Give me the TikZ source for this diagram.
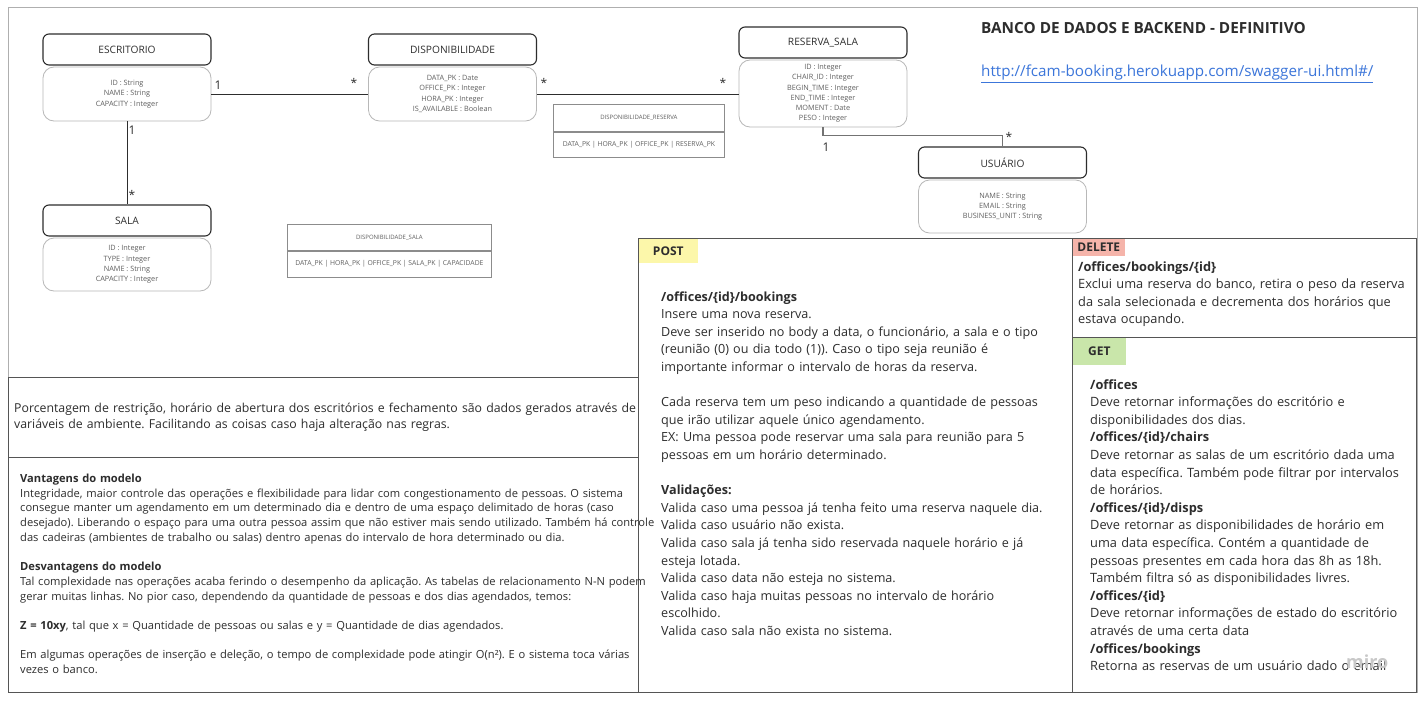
\documentclass[tikz,border=0pt]{standalone}
\usepackage{fontspec}
\setmainfont{Open Sans}
\frenchspacing
\definecolor{framegray}{RGB}{175,175,175}
\definecolor{panelline}{RGB}{85,85,85}
\definecolor{inkdark}{RGB}{45,45,45}
\definecolor{inkmid}{RGB}{95,95,95}
\definecolor{postyellow}{RGB}{252,247,170}
\definecolor{delred}{RGB}{245,180,170}
\definecolor{getgreen}{RGB}{201,230,170}
\definecolor{linkblue}{RGB}{60,118,218}
\definecolor{wmgray}{RGB}{200,200,200}
\begin{document}
\begin{tikzpicture}[x=1pt,y=-1pt,
  ehead/.style={draw=inkdark, line width=1.1pt, rounded corners=6pt,
    minimum width=168pt, minimum height=31pt, inner sep=0pt, text=inkdark,
    font=\fontsize{10.2}{11}\selectfont},
  ebody/.style={draw=black!28, line width=0.8pt, rounded corners=11pt,
    minimum width=168pt, inner sep=0pt, align=center, text=inkmid,
    font=\fontsize{7.3}{10.2}\selectfont},
  mult/.style={inner sep=0pt, text=inkdark, font=\fontsize{12}{12}\selectfont},
  rel/.style={draw=inkdark, line width=0.9pt},
  jtitle/.style={draw=black!45, line width=0.8pt, inner sep=0pt, text=inkmid,
    font=\fontsize{6}{7}\selectfont},
  jrow/.style={draw=black!45, line width=0.8pt, inner sep=0pt, text=inkmid,
    font=\fontsize{6.8}{8}\selectfont},
  panel/.style={draw=panelline, line width=1.2pt, inner sep=0pt, anchor=north west},
  tag/.style={inner sep=0pt, anchor=north west, text=inkdark,
    font=\bfseries\fontsize{12}{14}\selectfont},
  ptext/.style={anchor=base west, inner sep=0pt, align=left, text=inkdark,
    font=\fontsize{12.8}{17.6}\selectfont},
]
\useasboundingbox (0,0) rectangle (1424,701);
\fill[white] (0,0) rectangle (1424,701);

% outer frame
\draw[framegray, line width=1pt] (8,8) rectangle (1417,692);

% ---------- entities ----------
\node[ehead] (escH) at (127,49.5) {ESCRITORIO};
\node[ebody, minimum height=54pt] (escB) at (127,94) {ID : String\\NAME : String\\CAPACITY : Integer};

\node[ehead] (dispH) at (452.5,49.5) {DISPONIBILIDADE};
\node[ebody, minimum height=54pt] (dispB) at (452.5,94) {DATA\_PK : Date\\OFFICE\_PK : Integer\\HORA\_PK : Integer\\IS\_AVAILABLE : Boolean};

\node[ehead] (resH) at (823,42.5) {RESERVA\_SALA};
\node[ebody, minimum height=67pt] (resB) at (823,93.5) {ID : Integer\\CHAIR\_ID : Integer\\BEGIN\_TIME : Integer\\END\_TIME : Integer\\MOMENT : Date\\PESO : Integer};

\node[ehead] (usrH) at (1002.5,162.5) {USUÁRIO};
\node[ebody, minimum height=53pt] (usrB) at (1002.5,206.5) {NAME : String\\EMAIL : String\\BUSINESS\_UNIT : String};

\node[ehead] (salaH) at (127,220.5) {SALA};
\node[ebody, minimum height=53pt] (salaB) at (127,264.5) {ID : Integer\\TYPE : Integer\\NAME : String\\CAPACITY : Integer};

% ---------- relations ----------
\draw[rel] (escB.east) -- (dispB.west);
\draw[rel] (dispB.east) -- (dispB.east -| resB.west);
\draw[rel] (escB.south) -- (salaH.north);
\draw[draw=black!55, line width=1.8pt] (resB.south) -- ++(0,8) -| (usrH.north);

\node[mult] (m1) at (218,85) {1};
\node[mult] (m2) at (354,83) {*};
\node[mult] (m3) at (544,83) {*};
\node[mult] (m4) at (723,83) {*};
\node[mult] (m5) at (132,130) {1};
\node[mult] (m6) at (132,195) {*};
\node[mult] (m7) at (826,147) {1};
\node[mult] (m8) at (1009,137) {*};

% ---------- join tables ----------
\node[jtitle, anchor=north west, minimum width=171pt, minimum height=27pt] (drT) at (553,104) {DISPONIBILIDADE\_RESERVA};
\node[jrow, anchor=north west, minimum width=171pt, minimum height=25pt] (drR) at (drT.south west) {DATA\_PK | HORA\_PK | OFFICE\_PK | RESERVA\_PK};

\node[jtitle, anchor=north west, minimum width=204pt, minimum height=26pt] (dsT) at (287,224) {DISPONIBILIDADE\_SALA};
\node[jrow, anchor=north west, minimum width=204pt, minimum height=26pt] (dsR) at (dsT.south west) {DATA\_PK | HORA\_PK | OFFICE\_PK | SALA\_PK | CAPACIDADE};

% ---------- heading ----------
\node[anchor=base west, inner sep=0pt, text=inkdark, font=\bfseries\fontsize{15.3}{16}\selectfont] (title) at (981,33.5) {BANCO DE DADOS E BACKEND - DEFINITIVO};
\node[anchor=base west, inner sep=0pt, text=linkblue, font=\fontsize{15.2}{16}\selectfont] (link) at (981,77) {\underline{http://fcam-booking.herokuapp.com/swagger-ui.html\#/}};

% ---------- panels ----------
\node[panel, minimum width=630pt, minimum height=80pt] (envBox) at (8,377) {};
\node[panel, minimum width=630pt, minimum height=235pt] (modelBox) at (8,457) {};
\node[panel, minimum width=434pt, minimum height=454pt] (postBox) at (638,238) {};
\node[panel, minimum width=344pt, minimum height=99pt] (delBox) at (1072,238) {};
\node[panel, minimum width=344pt, minimum height=355pt] (getBox) at (1072,337) {};

\node[tag, fill=postyellow, minimum width=59pt, minimum height=24pt] (postTag) at (638.6,238.6) {POST};
\node[tag, fill=delred, minimum width=52pt, minimum height=17pt] (delTag) at (1072.6,238.6) {DELETE};
\node[tag, fill=getgreen, minimum width=53pt, minimum height=27pt] (getTag) at (1072.6,337.6) {GET};

% ---------- panel texts ----------
\node[ptext, text width=680pt, font=\fontsize{12.3}{16}\selectfont] (envText) at (14,412) {Porcentagem de restrição, horário de abertura dos escritórios e fechamento são dados gerados através de\\variáveis de ambiente. Facilitando as coisas caso haja alteração nas regras.};

\node[ptext, text width=700pt, font=\fontsize{11.15}{14.7}\selectfont] (modelText) at (20,482.5) {\textbf{Vantagens do modelo}\\
Integridade, maior controle das operações e flexibilidade para lidar com congestionamento de pessoas. O sistema\\
consegue manter um agendamento em um determinado dia e dentro de uma espaço delimitado de horas (caso\\
desejado). Liberando o espaço para uma outra pessoa assim que não estiver mais sendo utilizado. Também há controle\\
das cadeiras (ambientes de trabalho ou salas) dentro apenas do intervalo de hora determinado ou dia.\\[14.7pt]
\textbf{Desvantagens do modelo}\\
Tal complexidade nas operações acaba ferindo o desempenho da aplicação. As tabelas de relacionamento N-N podem\\
gerar muitas linhas. No pior caso, dependendo da quantidade de pessoas e dos dias agendados, temos:\\[14.7pt]
\textbf{Z = 10xy}, tal que x = Quantidade de pessoas ou salas e y = Quantidade de dias agendados.\\[14.7pt]
Em algumas operações de inserção e deleção, o tempo de complexidade pode atingir O(n²). E o sistema toca várias\\
vezes o banco.};

\node[ptext, text width=440pt, font=\fontsize{12.6}{17.6}\selectfont] (postText) at (661,301) {\textbf{/offices/\{id\}/bookings}\\
Insere uma nova reserva.\\
Deve ser inserido no body a data, o funcionário, a sala e o tipo\\
(reunião (0) ou dia todo (1)). Caso o tipo seja reunião é\\
importante informar o intervalo de horas da reserva.\\[17.6pt]
Cada reserva tem um peso indicando a quantidade de pessoas\\
que irão utilizar aquele único agendamento.\\
EX: Uma pessoa pode reservar uma sala para reunião para 5\\
pessoas em um horário determinado.\\[17.6pt]
\textbf{Validações:}\\
Valida caso uma pessoa já tenha feito uma reserva naquele dia.\\
Valida caso usuário não exista.\\
Valida caso sala já tenha sido reservada naquele horário e já\\
esteja lotada.\\
Valida caso data não esteja no sistema.\\
Valida caso haja muitas pessoas no intervalo de horário\\
escolhido.\\
Valida caso sala não exista no sistema.};

\node[ptext, text width=360pt] (delText) at (1078,271) {\textbf{/offices/bookings/\{id\}}\\
Exclui uma reserva do banco, retira o peso da reserva\\
da sala selecionada e decrementa dos horários que\\
estava ocupando.};

\node[ptext, text width=350pt] (getText) at (1090,389) {\textbf{/offices}\\
Deve retornar informações do escritório e\\
disponibilidades dos dias.\\
\textbf{/offices/\{id\}/chairs}\\
Deve retornar as salas de um escritório dada uma\\
data específica. Também pode filtrar por intervalos\\
de horários.\\
\textbf{/offices/\{id\}/disps}\\
Deve retornar as disponibilidades de horário em\\
uma data específica. Contém a quantidade de\\
pessoas presentes em cada hora das 8h as 18h.\\
Também filtra só as disponibilidades livres.\\
\textbf{/offices/\{id\}}\\
Deve retornar informações de estado do escritório\\
através de uma certa data\\
\textbf{/offices/bookings}\\
Retorna as reservas de um usuário dado o email};

% watermark
\node[anchor=base west, inner sep=0pt, text=wmgray, font=\bfseries\fontsize{18}{18}\selectfont] (wm) at (1346,668) {miro};
\end{tikzpicture}
\end{document}
